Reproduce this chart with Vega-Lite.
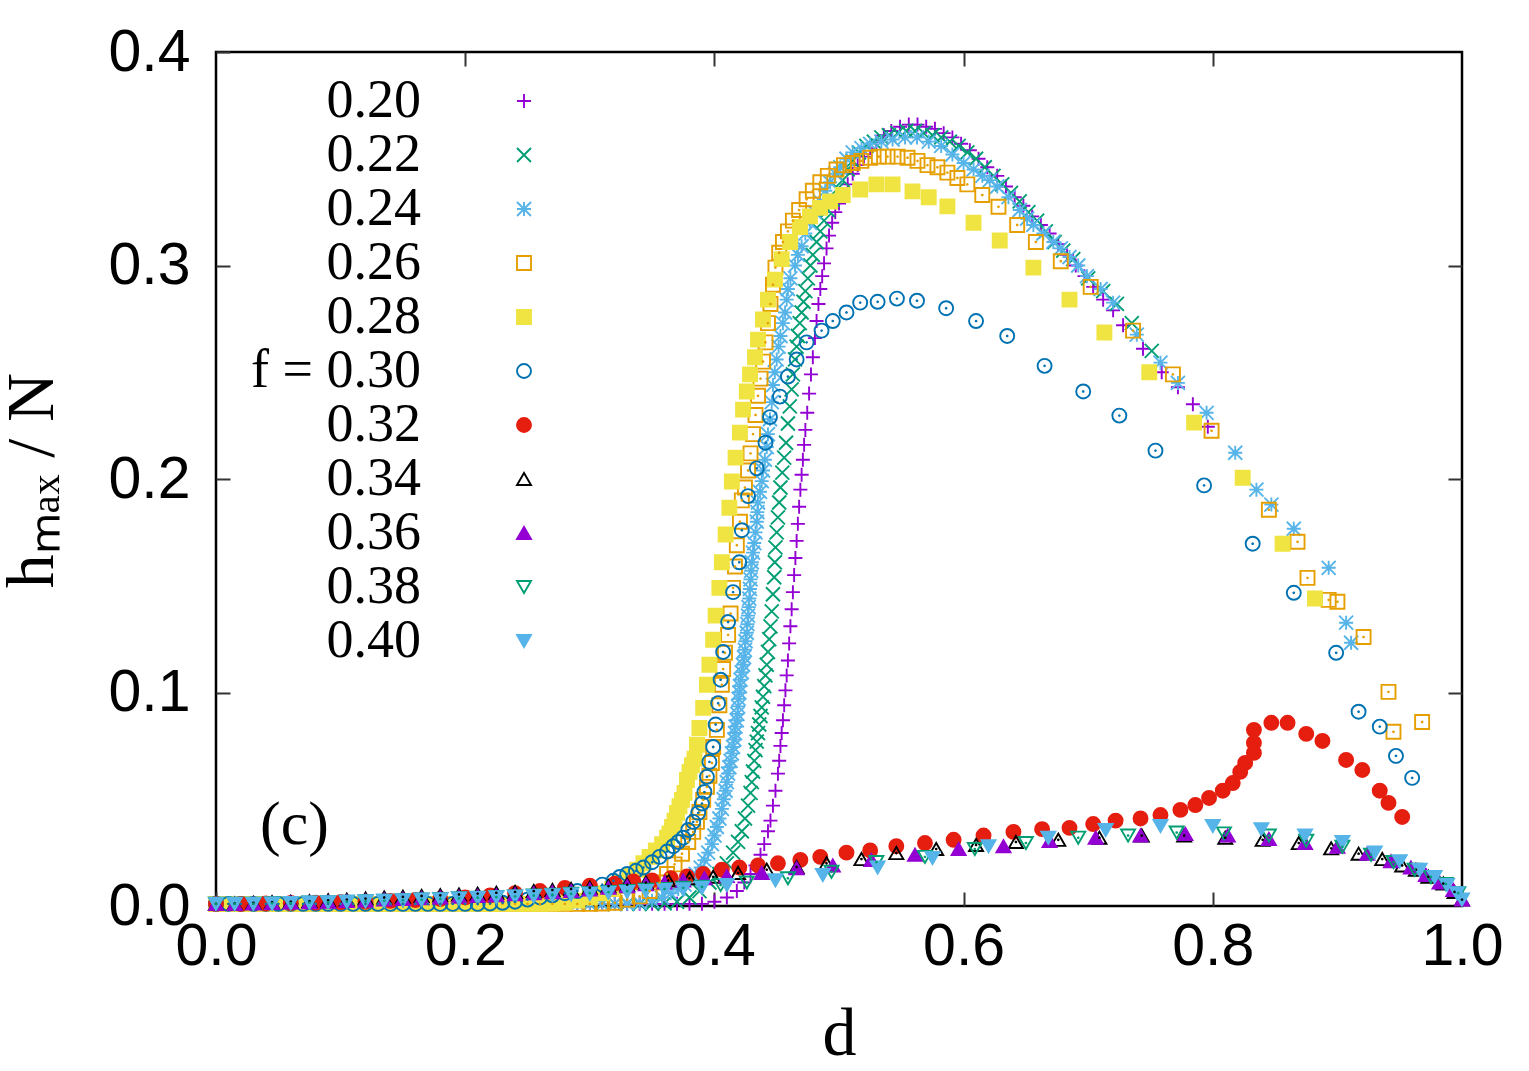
{
  "$schema": "https://vega.github.io/schema/vega-lite/v6.json",
  "width": 1246,
  "height": 854,
  "autosize": {"type": "none"},
  "padding": {"left": 216, "top": 52, "right": 67, "bottom": 165},
  "background": "white",
  "config": {
    "view": {"stroke": "#000", "strokeWidth": 2.5},
    "axis": {
      "grid": false, "domain": false, "tickColor": "#333", "tickWidth": 2, "tickSize": -14,
      "labelFont": "Liberation Sans", "labelFontSize": 59, "labelColor": "#000",
      "labelFlush": false, "labelOverlap": false,
      "titleFont": "Liberation Serif", "titleFontWeight": "normal", "titleColor": "#000", "titleFontSize": 68
    }
  },
  "data": {"values": [
    {"f":"0.20","d":0.00,"h":0.001},{"f":"0.20","d":0.01,"h":0.001},{"f":"0.20","d":0.02,"h":0.001},{"f":"0.20","d":0.03,"h":0.001},{"f":"0.20","d":0.04,"h":0.001},{"f":"0.20","d":0.05,"h":0.001},{"f":"0.20","d":0.06,"h":0.001},{"f":"0.20","d":0.07,"h":0.001},{"f":"0.20","d":0.08,"h":0.001},{"f":"0.20","d":0.09,"h":0.001},
    {"f":"0.20","d":0.10,"h":0.001},{"f":"0.20","d":0.11,"h":0.001},{"f":"0.20","d":0.12,"h":0.001},{"f":"0.20","d":0.13,"h":0.001},{"f":"0.20","d":0.14,"h":0.001},{"f":"0.20","d":0.15,"h":0.001},{"f":"0.20","d":0.16,"h":0.001},{"f":"0.20","d":0.17,"h":0.001},{"f":"0.20","d":0.18,"h":0.001},{"f":"0.20","d":0.19,"h":0.001},
    {"f":"0.20","d":0.20,"h":0.001},{"f":"0.20","d":0.21,"h":0.001},{"f":"0.20","d":0.22,"h":0.001},{"f":"0.20","d":0.23,"h":0.001},{"f":"0.20","d":0.24,"h":0.001},{"f":"0.20","d":0.25,"h":0.001},{"f":"0.20","d":0.26,"h":0.001},{"f":"0.20","d":0.27,"h":0.001},{"f":"0.20","d":0.28,"h":0.001},{"f":"0.20","d":0.29,"h":0.001},
    {"f":"0.20","d":0.30,"h":0.001},{"f":"0.20","d":0.31,"h":0.001},{"f":"0.20","d":0.32,"h":0.001},{"f":"0.20","d":0.33,"h":0.001},{"f":"0.20","d":0.34,"h":0.001},{"f":"0.20","d":0.35,"h":0.001},{"f":"0.20","d":0.36,"h":0.001},{"f":"0.20","d":0.37,"h":0.001},{"f":"0.20","d":0.38,"h":0.001},{"f":"0.20","d":0.39,"h":0.001},
    {"f":"0.20","d":0.400,"h":0.002},{"f":"0.20","d":0.410,"h":0.004},{"f":"0.20","d":0.418,"h":0.007},{"f":"0.20","d":0.424,"h":0.011},{"f":"0.20","d":0.429,"h":0.015},{"f":"0.20","d":0.433,"h":0.019},{"f":"0.20","d":0.437,"h":0.024},{"f":"0.20","d":0.440,"h":0.029},{"f":"0.20","d":0.443,"h":0.035},{"f":"0.20","d":0.445,"h":0.040},
    {"f":"0.20","d":0.447,"h":0.047},{"f":"0.20","d":0.449,"h":0.054},{"f":"0.20","d":0.451,"h":0.062},{"f":"0.20","d":0.452,"h":0.068},{"f":"0.20","d":0.453,"h":0.075},{"f":"0.20","d":0.454,"h":0.081},{"f":"0.20","d":0.455,"h":0.087},{"f":"0.20","d":0.456,"h":0.094},{"f":"0.20","d":0.457,"h":0.101},{"f":"0.20","d":0.458,"h":0.108},
    {"f":"0.20","d":0.459,"h":0.115},{"f":"0.20","d":0.460,"h":0.123},{"f":"0.20","d":0.461,"h":0.131},{"f":"0.20","d":0.462,"h":0.139},{"f":"0.20","d":0.463,"h":0.147},{"f":"0.20","d":0.464,"h":0.155},{"f":"0.20","d":0.465,"h":0.163},{"f":"0.20","d":0.466,"h":0.171},{"f":"0.20","d":0.467,"h":0.179},{"f":"0.20","d":0.468,"h":0.187},
    {"f":"0.20","d":0.469,"h":0.195},{"f":"0.20","d":0.470,"h":0.202},{"f":"0.20","d":0.471,"h":0.209},{"f":"0.20","d":0.472,"h":0.216},{"f":"0.20","d":0.473,"h":0.223},{"f":"0.20","d":0.4745,"h":0.231},{"f":"0.20","d":0.476,"h":0.240},{"f":"0.20","d":0.4775,"h":0.249},{"f":"0.20","d":0.479,"h":0.257},{"f":"0.20","d":0.4807,"h":0.266},
    {"f":"0.20","d":0.482,"h":0.274},{"f":"0.20","d":0.4835,"h":0.282},{"f":"0.20","d":0.485,"h":0.289},{"f":"0.20","d":0.4865,"h":0.295},{"f":"0.20","d":0.488,"h":0.301},{"f":"0.20","d":0.490,"h":0.308},{"f":"0.20","d":0.492,"h":0.314},{"f":"0.20","d":0.4945,"h":0.320},{"f":"0.20","d":0.497,"h":0.325},{"f":"0.20","d":0.500,"h":0.329},
    {"f":"0.20","d":0.503,"h":0.333},{"f":"0.20","d":0.507,"h":0.338},{"f":"0.20","d":0.511,"h":0.343},{"f":"0.20","d":0.515,"h":0.347},{"f":"0.20","d":0.520,"h":0.351},{"f":"0.20","d":0.525,"h":0.355},{"f":"0.20","d":0.530,"h":0.358},{"f":"0.20","d":0.536,"h":0.361},{"f":"0.20","d":0.542,"h":0.363},{"f":"0.20","d":0.549,"h":0.365},
    {"f":"0.20","d":0.556,"h":0.366},{"f":"0.20","d":0.563,"h":0.366},{"f":"0.20","d":0.570,"h":0.365},{"f":"0.20","d":0.577,"h":0.364},{"f":"0.20","d":0.584,"h":0.362},{"f":"0.20","d":0.591,"h":0.360},{"f":"0.20","d":0.598,"h":0.357},{"f":"0.20","d":0.605,"h":0.354},{"f":"0.20","d":0.612,"h":0.350},{"f":"0.20","d":0.619,"h":0.346},
    {"f":"0.20","d":0.627,"h":0.342},{"f":"0.20","d":0.634,"h":0.337},{"f":"0.20","d":0.641,"h":0.332},{"f":"0.20","d":0.648,"h":0.328},{"f":"0.20","d":0.655,"h":0.323},{"f":"0.20","d":0.662,"h":0.319},{"f":"0.20","d":0.669,"h":0.315},{"f":"0.20","d":0.676,"h":0.310},{"f":"0.20","d":0.683,"h":0.305},{"f":"0.20","d":0.690,"h":0.300},
    {"f":"0.20","d":0.697,"h":0.295},{"f":"0.20","d":0.704,"h":0.290},{"f":"0.20","d":0.712,"h":0.284},{"f":"0.20","d":0.720,"h":0.279},{"f":"0.20","d":0.728,"h":0.272},{"f":"0.20","d":0.744,"h":0.261},{"f":"0.20","d":0.759,"h":0.250},{"f":"0.20","d":0.772,"h":0.243},{"f":"0.20","d":0.784,"h":0.235},{"f":"0.20","d":0.796,"h":0.2245},

    {"f":"0.22","d":0.00,"h":0.001},{"f":"0.22","d":0.01,"h":0.001},{"f":"0.22","d":0.02,"h":0.001},{"f":"0.22","d":0.03,"h":0.001},{"f":"0.22","d":0.04,"h":0.001},{"f":"0.22","d":0.05,"h":0.001},{"f":"0.22","d":0.06,"h":0.001},{"f":"0.22","d":0.07,"h":0.001},{"f":"0.22","d":0.08,"h":0.001},{"f":"0.22","d":0.09,"h":0.001},
    {"f":"0.22","d":0.10,"h":0.001},{"f":"0.22","d":0.11,"h":0.001},{"f":"0.22","d":0.12,"h":0.001},{"f":"0.22","d":0.13,"h":0.001},{"f":"0.22","d":0.14,"h":0.001},{"f":"0.22","d":0.15,"h":0.001},{"f":"0.22","d":0.16,"h":0.001},{"f":"0.22","d":0.17,"h":0.001},{"f":"0.22","d":0.18,"h":0.001},{"f":"0.22","d":0.19,"h":0.001},
    {"f":"0.22","d":0.20,"h":0.001},{"f":"0.22","d":0.21,"h":0.001},{"f":"0.22","d":0.22,"h":0.001},{"f":"0.22","d":0.23,"h":0.001},{"f":"0.22","d":0.24,"h":0.001},{"f":"0.22","d":0.25,"h":0.001},{"f":"0.22","d":0.26,"h":0.001},{"f":"0.22","d":0.27,"h":0.001},{"f":"0.22","d":0.28,"h":0.001},{"f":"0.22","d":0.29,"h":0.001},
    {"f":"0.22","d":0.30,"h":0.001},{"f":"0.22","d":0.31,"h":0.001},{"f":"0.22","d":0.32,"h":0.001},{"f":"0.22","d":0.33,"h":0.001},{"f":"0.22","d":0.34,"h":0.001},{"f":"0.22","d":0.35,"h":0.001},{"f":"0.22","d":0.36,"h":0.0012},
    {"f":"0.22","d":0.370,"h":0.002},{"f":"0.22","d":0.380,"h":0.004},{"f":"0.22","d":0.388,"h":0.007},{"f":"0.22","d":0.396,"h":0.011},{"f":"0.22","d":0.404,"h":0.015},{"f":"0.22","d":0.410,"h":0.020},{"f":"0.22","d":0.415,"h":0.025},{"f":"0.22","d":0.419,"h":0.030},{"f":"0.22","d":0.422,"h":0.035},{"f":"0.22","d":0.4245,"h":0.041},
    {"f":"0.22","d":0.427,"h":0.047},{"f":"0.22","d":0.429,"h":0.053},{"f":"0.22","d":0.430,"h":0.058},{"f":"0.22","d":0.431,"h":0.063},{"f":"0.22","d":0.432,"h":0.068},{"f":"0.22","d":0.433,"h":0.073},{"f":"0.22","d":0.434,"h":0.077},{"f":"0.22","d":0.435,"h":0.081},{"f":"0.22","d":0.436,"h":0.085},{"f":"0.22","d":0.437,"h":0.089},
    {"f":"0.22","d":0.438,"h":0.093},{"f":"0.22","d":0.439,"h":0.098},{"f":"0.22","d":0.440,"h":0.103},{"f":"0.22","d":0.441,"h":0.108},{"f":"0.22","d":0.442,"h":0.113},{"f":"0.22","d":0.443,"h":0.119},{"f":"0.22","d":0.444,"h":0.125},{"f":"0.22","d":0.445,"h":0.131},{"f":"0.22","d":0.446,"h":0.138},{"f":"0.22","d":0.447,"h":0.146},
    {"f":"0.22","d":0.448,"h":0.154},{"f":"0.22","d":0.4485,"h":0.161},{"f":"0.22","d":0.449,"h":0.168},{"f":"0.22","d":0.450,"h":0.175},{"f":"0.22","d":0.451,"h":0.182},{"f":"0.22","d":0.452,"h":0.189},{"f":"0.22","d":0.453,"h":0.196},{"f":"0.22","d":0.4545,"h":0.203},{"f":"0.22","d":0.456,"h":0.210},{"f":"0.22","d":0.4575,"h":0.217},
    {"f":"0.22","d":0.459,"h":0.226},{"f":"0.22","d":0.4605,"h":0.234},{"f":"0.22","d":0.462,"h":0.242},{"f":"0.22","d":0.463,"h":0.249},{"f":"0.22","d":0.4647,"h":0.256},{"f":"0.22","d":0.466,"h":0.262},{"f":"0.22","d":0.467,"h":0.267},{"f":"0.22","d":0.4685,"h":0.273},{"f":"0.22","d":0.470,"h":0.278},{"f":"0.22","d":0.4715,"h":0.283},
    {"f":"0.22","d":0.473,"h":0.288},{"f":"0.22","d":0.475,"h":0.294},{"f":"0.22","d":0.477,"h":0.300},{"f":"0.22","d":0.479,"h":0.305},{"f":"0.22","d":0.482,"h":0.311},{"f":"0.22","d":0.485,"h":0.316},{"f":"0.22","d":0.488,"h":0.321},{"f":"0.22","d":0.491,"h":0.326},{"f":"0.22","d":0.495,"h":0.331},{"f":"0.22","d":0.499,"h":0.336},
    {"f":"0.22","d":0.503,"h":0.340},{"f":"0.22","d":0.507,"h":0.345},{"f":"0.22","d":0.511,"h":0.349},{"f":"0.22","d":0.516,"h":0.353},{"f":"0.22","d":0.522,"h":0.356},{"f":"0.22","d":0.528,"h":0.358},{"f":"0.22","d":0.534,"h":0.360},{"f":"0.22","d":0.540,"h":0.361},{"f":"0.22","d":0.547,"h":0.362},{"f":"0.22","d":0.554,"h":0.363},
    {"f":"0.22","d":0.561,"h":0.363},{"f":"0.22","d":0.568,"h":0.362},{"f":"0.22","d":0.575,"h":0.361},{"f":"0.22","d":0.582,"h":0.360},{"f":"0.22","d":0.589,"h":0.358},{"f":"0.22","d":0.596,"h":0.356},{"f":"0.22","d":0.603,"h":0.353},{"f":"0.22","d":0.610,"h":0.350},{"f":"0.22","d":0.617,"h":0.346},{"f":"0.22","d":0.624,"h":0.342},
    {"f":"0.22","d":0.631,"h":0.338},{"f":"0.22","d":0.638,"h":0.334},{"f":"0.22","d":0.645,"h":0.330},{"f":"0.22","d":0.652,"h":0.325},{"f":"0.22","d":0.659,"h":0.321},{"f":"0.22","d":0.666,"h":0.316},{"f":"0.22","d":0.673,"h":0.311},{"f":"0.22","d":0.680,"h":0.307},{"f":"0.22","d":0.688,"h":0.303},{"f":"0.22","d":0.700,"h":0.294},
    {"f":"0.22","d":0.712,"h":0.288},{"f":"0.22","d":0.723,"h":0.282},{"f":"0.22","d":0.735,"h":0.273},{"f":"0.22","d":0.751,"h":0.260},

    {"f":"0.24","d":0.00,"h":0.001},{"f":"0.24","d":0.01,"h":0.001},{"f":"0.24","d":0.02,"h":0.001},{"f":"0.24","d":0.03,"h":0.001},{"f":"0.24","d":0.04,"h":0.001},{"f":"0.24","d":0.05,"h":0.001},{"f":"0.24","d":0.06,"h":0.001},{"f":"0.24","d":0.07,"h":0.001},{"f":"0.24","d":0.08,"h":0.001},{"f":"0.24","d":0.09,"h":0.001},
    {"f":"0.24","d":0.10,"h":0.001},{"f":"0.24","d":0.11,"h":0.001},{"f":"0.24","d":0.12,"h":0.001},{"f":"0.24","d":0.13,"h":0.001},{"f":"0.24","d":0.14,"h":0.001},{"f":"0.24","d":0.15,"h":0.001},{"f":"0.24","d":0.16,"h":0.001},{"f":"0.24","d":0.17,"h":0.001},{"f":"0.24","d":0.18,"h":0.001},{"f":"0.24","d":0.19,"h":0.001},
    {"f":"0.24","d":0.20,"h":0.001},{"f":"0.24","d":0.21,"h":0.001},{"f":"0.24","d":0.22,"h":0.001},{"f":"0.24","d":0.23,"h":0.001},{"f":"0.24","d":0.24,"h":0.001},{"f":"0.24","d":0.25,"h":0.001},{"f":"0.24","d":0.26,"h":0.001},{"f":"0.24","d":0.27,"h":0.001},{"f":"0.24","d":0.28,"h":0.001},{"f":"0.24","d":0.29,"h":0.001},
    {"f":"0.24","d":0.30,"h":0.001},{"f":"0.24","d":0.31,"h":0.001},{"f":"0.24","d":0.32,"h":0.001},{"f":"0.24","d":0.33,"h":0.0012},
    {"f":"0.24","d":0.340,"h":0.0015},{"f":"0.24","d":0.350,"h":0.0025},{"f":"0.24","d":0.358,"h":0.004},{"f":"0.24","d":0.365,"h":0.006},{"f":"0.24","d":0.371,"h":0.008},{"f":"0.24","d":0.376,"h":0.010},{"f":"0.24","d":0.381,"h":0.0125},{"f":"0.24","d":0.385,"h":0.015},{"f":"0.24","d":0.389,"h":0.018},{"f":"0.24","d":0.392,"h":0.0215},
    {"f":"0.24","d":0.395,"h":0.025},{"f":"0.24","d":0.398,"h":0.029},{"f":"0.24","d":0.400,"h":0.033},{"f":"0.24","d":0.402,"h":0.037},{"f":"0.24","d":0.404,"h":0.041},{"f":"0.24","d":0.406,"h":0.0455},{"f":"0.24","d":0.4075,"h":0.050},{"f":"0.24","d":0.409,"h":0.054},{"f":"0.24","d":0.410,"h":0.058},{"f":"0.24","d":0.411,"h":0.062},
    {"f":"0.24","d":0.412,"h":0.065},{"f":"0.24","d":0.413,"h":0.068},{"f":"0.24","d":0.414,"h":0.0715},{"f":"0.24","d":0.415,"h":0.0745},{"f":"0.24","d":0.416,"h":0.078},{"f":"0.24","d":0.4165,"h":0.081},{"f":"0.24","d":0.417,"h":0.084},{"f":"0.24","d":0.418,"h":0.087},{"f":"0.24","d":0.4185,"h":0.090},{"f":"0.24","d":0.419,"h":0.0935},
    {"f":"0.24","d":0.4195,"h":0.097},{"f":"0.24","d":0.420,"h":0.100},{"f":"0.24","d":0.4205,"h":0.103},{"f":"0.24","d":0.421,"h":0.106},{"f":"0.24","d":0.422,"h":0.1095},{"f":"0.24","d":0.423,"h":0.113},{"f":"0.24","d":0.4238,"h":0.1165},{"f":"0.24","d":0.4245,"h":0.120},{"f":"0.24","d":0.425,"h":0.124},{"f":"0.24","d":0.426,"h":0.128},
    {"f":"0.24","d":0.4265,"h":0.132},{"f":"0.24","d":0.427,"h":0.136},{"f":"0.24","d":0.4275,"h":0.140},{"f":"0.24","d":0.428,"h":0.144},{"f":"0.24","d":0.4285,"h":0.1485},{"f":"0.24","d":0.429,"h":0.153},{"f":"0.24","d":0.4295,"h":0.157},{"f":"0.24","d":0.430,"h":0.161},{"f":"0.24","d":0.431,"h":0.1655},{"f":"0.24","d":0.432,"h":0.170},
    {"f":"0.24","d":0.433,"h":0.175},{"f":"0.24","d":0.434,"h":0.180},{"f":"0.24","d":0.4345,"h":0.1845},{"f":"0.24","d":0.435,"h":0.189},{"f":"0.24","d":0.4366,"h":0.194},{"f":"0.24","d":0.438,"h":0.199},{"f":"0.24","d":0.439,"h":0.204},{"f":"0.24","d":0.4405,"h":0.209},{"f":"0.24","d":0.442,"h":0.215},{"f":"0.24","d":0.443,"h":0.221},
    {"f":"0.24","d":0.4446,"h":0.228},{"f":"0.24","d":0.446,"h":0.236},{"f":"0.24","d":0.447,"h":0.244},{"f":"0.24","d":0.4485,"h":0.250},{"f":"0.24","d":0.450,"h":0.256},{"f":"0.24","d":0.4515,"h":0.262},{"f":"0.24","d":0.453,"h":0.267},{"f":"0.24","d":0.455,"h":0.273},{"f":"0.24","d":0.4567,"h":0.278},{"f":"0.24","d":0.458,"h":0.284},
    {"f":"0.24","d":0.459,"h":0.289},{"f":"0.24","d":0.461,"h":0.294},{"f":"0.24","d":0.4647,"h":0.300},{"f":"0.24","d":0.467,"h":0.305},{"f":"0.24","d":0.470,"h":0.309},{"f":"0.24","d":0.473,"h":0.315},{"f":"0.24","d":0.4767,"h":0.320},{"f":"0.24","d":0.4805,"h":0.325},{"f":"0.24","d":0.4848,"h":0.330},{"f":"0.24","d":0.489,"h":0.335},
    {"f":"0.24","d":0.4928,"h":0.339},{"f":"0.24","d":0.497,"h":0.343},{"f":"0.24","d":0.501,"h":0.346},{"f":"0.24","d":0.506,"h":0.350},{"f":"0.24","d":0.511,"h":0.353},{"f":"0.24","d":0.518,"h":0.355},{"f":"0.24","d":0.525,"h":0.357},{"f":"0.24","d":0.534,"h":0.358},{"f":"0.24","d":0.543,"h":0.359},{"f":"0.24","d":0.553,"h":0.360},
    {"f":"0.24","d":0.5626,"h":0.360},{"f":"0.24","d":0.572,"h":0.358},{"f":"0.24","d":0.582,"h":0.356},{"f":"0.24","d":0.591,"h":0.352},{"f":"0.24","d":0.600,"h":0.348},{"f":"0.24","d":0.608,"h":0.345},{"f":"0.24","d":0.615,"h":0.342},{"f":"0.24","d":0.621,"h":0.340},{"f":"0.24","d":0.627,"h":0.337},{"f":"0.24","d":0.636,"h":0.332},
    {"f":"0.24","d":0.645,"h":0.326},{"f":"0.24","d":0.651,"h":0.322},{"f":"0.24","d":0.656,"h":0.319},{"f":"0.24","d":0.664,"h":0.315},{"f":"0.24","d":0.672,"h":0.311},{"f":"0.24","d":0.678,"h":0.308},{"f":"0.24","d":0.685,"h":0.304},{"f":"0.24","d":0.692,"h":0.300},{"f":"0.24","d":0.699,"h":0.295},{"f":"0.24","d":0.710,"h":0.289},
    {"f":"0.24","d":0.720,"h":0.2826},{"f":"0.24","d":0.739,"h":0.2676},{"f":"0.24","d":0.758,"h":0.2545},{"f":"0.24","d":0.772,"h":0.245},{"f":"0.24","d":0.795,"h":0.231},{"f":"0.24","d":0.818,"h":0.2123},{"f":"0.24","d":0.835,"h":0.195},{"f":"0.24","d":0.847,"h":0.188},{"f":"0.24","d":0.865,"h":0.1767},{"f":"0.24","d":0.893,"h":0.1584},
    {"f":"0.24","d":0.907,"h":0.1327},{"f":"0.24","d":0.911,"h":0.1233},

    {"f":"0.26","d":0.00,"h":0.001},{"f":"0.26","d":0.01,"h":0.001},{"f":"0.26","d":0.02,"h":0.001},{"f":"0.26","d":0.03,"h":0.001},{"f":"0.26","d":0.04,"h":0.001},{"f":"0.26","d":0.05,"h":0.001},{"f":"0.26","d":0.06,"h":0.001},{"f":"0.26","d":0.07,"h":0.001},{"f":"0.26","d":0.08,"h":0.001},{"f":"0.26","d":0.09,"h":0.001},
    {"f":"0.26","d":0.10,"h":0.001},{"f":"0.26","d":0.11,"h":0.001},{"f":"0.26","d":0.12,"h":0.001},{"f":"0.26","d":0.13,"h":0.001},{"f":"0.26","d":0.14,"h":0.001},{"f":"0.26","d":0.15,"h":0.001},{"f":"0.26","d":0.16,"h":0.001},{"f":"0.26","d":0.17,"h":0.001},{"f":"0.26","d":0.18,"h":0.001},{"f":"0.26","d":0.19,"h":0.001},
    {"f":"0.26","d":0.20,"h":0.001},{"f":"0.26","d":0.21,"h":0.001},{"f":"0.26","d":0.22,"h":0.001},{"f":"0.26","d":0.23,"h":0.001},{"f":"0.26","d":0.24,"h":0.001},{"f":"0.26","d":0.25,"h":0.001},{"f":"0.26","d":0.26,"h":0.001},{"f":"0.26","d":0.27,"h":0.001},{"f":"0.26","d":0.28,"h":0.001},{"f":"0.26","d":0.29,"h":0.001},
    {"f":"0.26","d":0.30,"h":0.001},{"f":"0.26","d":0.31,"h":0.0012},
    {"f":"0.26","d":0.320,"h":0.0015},{"f":"0.26","d":0.330,"h":0.003},{"f":"0.26","d":0.340,"h":0.0045},{"f":"0.26","d":0.348,"h":0.007},{"f":"0.26","d":0.356,"h":0.011},{"f":"0.26","d":0.362,"h":0.015},{"f":"0.26","d":0.368,"h":0.0195},{"f":"0.26","d":0.374,"h":0.0245},{"f":"0.26","d":0.379,"h":0.030},{"f":"0.26","d":0.383,"h":0.0347},
    {"f":"0.26","d":0.386,"h":0.0394},{"f":"0.26","d":0.388,"h":0.044},{"f":"0.26","d":0.391,"h":0.0497},{"f":"0.26","d":0.394,"h":0.0558},{"f":"0.26","d":0.396,"h":0.061},{"f":"0.26","d":0.398,"h":0.067},{"f":"0.26","d":0.399,"h":0.0745},{"f":"0.26","d":0.402,"h":0.0825},{"f":"0.26","d":0.404,"h":0.094},{"f":"0.26","d":0.406,"h":0.1036},
    {"f":"0.26","d":0.407,"h":0.111},{"f":"0.26","d":0.4085,"h":0.1186},{"f":"0.26","d":0.411,"h":0.127},{"f":"0.26","d":0.413,"h":0.137},{"f":"0.26","d":0.415,"h":0.149},{"f":"0.26","d":0.4165,"h":0.159},{"f":"0.26","d":0.418,"h":0.169},{"f":"0.26","d":0.4205,"h":0.180},{"f":"0.26","d":0.422,"h":0.190},{"f":"0.26","d":0.4245,"h":0.196},
    {"f":"0.26","d":0.427,"h":0.204},{"f":"0.26","d":0.429,"h":0.212},{"f":"0.26","d":0.431,"h":0.221},{"f":"0.26","d":0.433,"h":0.230},{"f":"0.26","d":0.435,"h":0.239},{"f":"0.26","d":0.437,"h":0.247},{"f":"0.26","d":0.439,"h":0.255},{"f":"0.26","d":0.441,"h":0.264},{"f":"0.26","d":0.443,"h":0.273},{"f":"0.26","d":0.445,"h":0.282},
    {"f":"0.26","d":0.447,"h":0.291},{"f":"0.26","d":0.449,"h":0.299},{"f":"0.26","d":0.452,"h":0.306},{"f":"0.26","d":0.455,"h":0.311},{"f":"0.26","d":0.459,"h":0.316},{"f":"0.26","d":0.463,"h":0.321},{"f":"0.26","d":0.468,"h":0.326},{"f":"0.26","d":0.474,"h":0.331},{"f":"0.26","d":0.479,"h":0.335},{"f":"0.26","d":0.485,"h":0.339},
    {"f":"0.26","d":0.491,"h":0.342},{"f":"0.26","d":0.498,"h":0.345},{"f":"0.26","d":0.504,"h":0.347},{"f":"0.26","d":0.511,"h":0.348},{"f":"0.26","d":0.518,"h":0.349},{"f":"0.26","d":0.525,"h":0.3505},{"f":"0.26","d":0.532,"h":0.351},{"f":"0.26","d":0.539,"h":0.351},{"f":"0.26","d":0.547,"h":0.351},{"f":"0.26","d":0.555,"h":0.3505},
    {"f":"0.26","d":0.563,"h":0.349},{"f":"0.26","d":0.571,"h":0.347},{"f":"0.26","d":0.579,"h":0.346},{"f":"0.26","d":0.587,"h":0.3435},{"f":"0.26","d":0.595,"h":0.341},{"f":"0.26","d":0.603,"h":0.338},{"f":"0.26","d":0.615,"h":0.333},{"f":"0.26","d":0.628,"h":0.3275},{"f":"0.26","d":0.643,"h":0.319},{"f":"0.26","d":0.658,"h":0.311},
    {"f":"0.26","d":0.678,"h":0.302},{"f":"0.26","d":0.702,"h":0.290},{"f":"0.26","d":0.736,"h":0.2695},{"f":"0.26","d":0.768,"h":0.249},{"f":"0.26","d":0.799,"h":0.2226},{"f":"0.26","d":0.845,"h":0.1856},{"f":"0.26","d":0.868,"h":0.1706},{"f":"0.26","d":0.876,"h":0.1537},{"f":"0.26","d":0.893,"h":0.1434},{"f":"0.26","d":0.900,"h":0.1425},
    {"f":"0.26","d":0.921,"h":0.126},{"f":"0.26","d":0.941,"h":0.1003},{"f":"0.26","d":0.945,"h":0.0816},{"f":"0.26","d":0.968,"h":0.0862},

    {"f":"0.28","d":0.00,"h":0.001},{"f":"0.28","d":0.01,"h":0.001},{"f":"0.28","d":0.02,"h":0.001},{"f":"0.28","d":0.03,"h":0.001},{"f":"0.28","d":0.04,"h":0.001},{"f":"0.28","d":0.05,"h":0.001},{"f":"0.28","d":0.06,"h":0.001},{"f":"0.28","d":0.07,"h":0.001},{"f":"0.28","d":0.08,"h":0.001},{"f":"0.28","d":0.09,"h":0.001},
    {"f":"0.28","d":0.10,"h":0.001},{"f":"0.28","d":0.11,"h":0.001},{"f":"0.28","d":0.12,"h":0.001},{"f":"0.28","d":0.13,"h":0.001},{"f":"0.28","d":0.14,"h":0.001},{"f":"0.28","d":0.15,"h":0.001},{"f":"0.28","d":0.16,"h":0.001},{"f":"0.28","d":0.17,"h":0.001},{"f":"0.28","d":0.18,"h":0.001},{"f":"0.28","d":0.19,"h":0.001},
    {"f":"0.28","d":0.20,"h":0.001},{"f":"0.28","d":0.21,"h":0.001},{"f":"0.28","d":0.22,"h":0.001},{"f":"0.28","d":0.23,"h":0.001},{"f":"0.28","d":0.24,"h":0.001},{"f":"0.28","d":0.25,"h":0.001},{"f":"0.28","d":0.26,"h":0.001},{"f":"0.28","d":0.27,"h":0.0012},
    {"f":"0.28","d":0.280,"h":0.0015},{"f":"0.28","d":0.290,"h":0.0025},{"f":"0.28","d":0.300,"h":0.004},{"f":"0.28","d":0.310,"h":0.006},{"f":"0.28","d":0.318,"h":0.008},{"f":"0.28","d":0.325,"h":0.011},{"f":"0.28","d":0.332,"h":0.014},{"f":"0.28","d":0.338,"h":0.017},{"f":"0.28","d":0.343,"h":0.020},{"f":"0.28","d":0.348,"h":0.023},
    {"f":"0.28","d":0.353,"h":0.026},{"f":"0.28","d":0.358,"h":0.029},{"f":"0.28","d":0.362,"h":0.032},{"f":"0.28","d":0.364,"h":0.034},{"f":"0.28","d":0.366,"h":0.037},{"f":"0.28","d":0.368,"h":0.040},{"f":"0.28","d":0.370,"h":0.0436},{"f":"0.28","d":0.372,"h":0.0467},{"f":"0.28","d":0.374,"h":0.0497},{"f":"0.28","d":0.376,"h":0.053},
    {"f":"0.28","d":0.378,"h":0.059},{"f":"0.28","d":0.380,"h":0.0628},{"f":"0.28","d":0.382,"h":0.066},{"f":"0.28","d":0.384,"h":0.069},{"f":"0.28","d":0.386,"h":0.0755},{"f":"0.28","d":0.388,"h":0.0834},{"f":"0.28","d":0.391,"h":0.0928},{"f":"0.28","d":0.394,"h":0.1036},{"f":"0.28","d":0.396,"h":0.113},{"f":"0.28","d":0.399,"h":0.1247},
    {"f":"0.28","d":0.401,"h":0.136},{"f":"0.28","d":0.404,"h":0.149},{"f":"0.28","d":0.406,"h":0.161},{"f":"0.28","d":0.409,"h":0.174},{"f":"0.28","d":0.412,"h":0.1865},{"f":"0.28","d":0.414,"h":0.1988},{"f":"0.28","d":0.417,"h":0.210},{"f":"0.28","d":0.4205,"h":0.2217},{"f":"0.28","d":0.423,"h":0.2325},{"f":"0.28","d":0.426,"h":0.241},
    {"f":"0.28","d":0.4286,"h":0.249},{"f":"0.28","d":0.4326,"h":0.257},{"f":"0.28","d":0.435,"h":0.2653},{"f":"0.28","d":0.439,"h":0.2747},{"f":"0.28","d":0.443,"h":0.284},{"f":"0.28","d":0.4486,"h":0.2934},{"f":"0.28","d":0.454,"h":0.303},{"f":"0.28","d":0.4607,"h":0.311},{"f":"0.28","d":0.4687,"h":0.318},{"f":"0.28","d":0.4767,"h":0.323},
    {"f":"0.28","d":0.4848,"h":0.327},{"f":"0.28","d":0.4928,"h":0.330},{"f":"0.28","d":0.503,"h":0.333},{"f":"0.28","d":0.517,"h":0.3356},{"f":"0.28","d":0.530,"h":0.338},{"f":"0.28","d":0.543,"h":0.338},{"f":"0.28","d":0.559,"h":0.3347},{"f":"0.28","d":0.572,"h":0.332},{"f":"0.28","d":0.587,"h":0.3277},{"f":"0.28","d":0.608,"h":0.320},
    {"f":"0.28","d":0.629,"h":0.3117},{"f":"0.28","d":0.656,"h":0.299},{"f":"0.28","d":0.685,"h":0.284},{"f":"0.28","d":0.713,"h":0.2686},{"f":"0.28","d":0.749,"h":0.250},{"f":"0.28","d":0.785,"h":0.2264},{"f":"0.28","d":0.824,"h":0.2006},{"f":"0.28","d":0.856,"h":0.1697},{"f":"0.28","d":0.882,"h":0.144},

    {"f":"0.30","d":0.00,"h":0.001},{"f":"0.30","d":0.01,"h":0.001},{"f":"0.30","d":0.02,"h":0.001},{"f":"0.30","d":0.03,"h":0.001},{"f":"0.30","d":0.04,"h":0.001},{"f":"0.30","d":0.05,"h":0.001},{"f":"0.30","d":0.06,"h":0.001},{"f":"0.30","d":0.07,"h":0.001},{"f":"0.30","d":0.08,"h":0.001},{"f":"0.30","d":0.09,"h":0.001},
    {"f":"0.30","d":0.10,"h":0.001},{"f":"0.30","d":0.11,"h":0.001},{"f":"0.30","d":0.12,"h":0.001},{"f":"0.30","d":0.13,"h":0.001},{"f":"0.30","d":0.14,"h":0.001},{"f":"0.30","d":0.15,"h":0.001},{"f":"0.30","d":0.16,"h":0.001},{"f":"0.30","d":0.17,"h":0.001},{"f":"0.30","d":0.18,"h":0.001},{"f":"0.30","d":0.19,"h":0.001},
    {"f":"0.30","d":0.20,"h":0.001},{"f":"0.30","d":0.21,"h":0.001},{"f":"0.30","d":0.22,"h":0.0012},
    {"f":"0.30","d":0.23,"h":0.0015},{"f":"0.30","d":0.24,"h":0.002},{"f":"0.30","d":0.25,"h":0.003},{"f":"0.30","d":0.26,"h":0.004},{"f":"0.30","d":0.27,"h":0.005},{"f":"0.30","d":0.28,"h":0.006},{"f":"0.30","d":0.29,"h":0.007},{"f":"0.30","d":0.30,"h":0.0085},{"f":"0.30","d":0.31,"h":0.010},{"f":"0.30","d":0.319,"h":0.0118},
    {"f":"0.30","d":0.324,"h":0.0136},{"f":"0.30","d":0.330,"h":0.015},{"f":"0.30","d":0.337,"h":0.0165},{"f":"0.30","d":0.343,"h":0.018},{"f":"0.30","d":0.350,"h":0.0205},{"f":"0.30","d":0.356,"h":0.023},{"f":"0.30","d":0.362,"h":0.0255},{"f":"0.30","d":0.367,"h":0.028},{"f":"0.30","d":0.371,"h":0.030},{"f":"0.30","d":0.375,"h":0.032},
    {"f":"0.30","d":0.379,"h":0.0356},{"f":"0.30","d":0.383,"h":0.0394},{"f":"0.30","d":0.387,"h":0.0436},{"f":"0.30","d":0.390,"h":0.048},{"f":"0.30","d":0.392,"h":0.0534},{"f":"0.30","d":0.394,"h":0.0605},{"f":"0.30","d":0.396,"h":0.0675},{"f":"0.30","d":0.399,"h":0.0745},{"f":"0.30","d":0.401,"h":0.085},{"f":"0.30","d":0.403,"h":0.095},
    {"f":"0.30","d":0.405,"h":0.106},{"f":"0.30","d":0.407,"h":0.119},{"f":"0.30","d":0.411,"h":0.133},{"f":"0.30","d":0.415,"h":0.147},{"f":"0.30","d":0.420,"h":0.161},{"f":"0.30","d":0.422,"h":0.176},{"f":"0.30","d":0.427,"h":0.192},{"f":"0.30","d":0.434,"h":0.205},{"f":"0.30","d":0.441,"h":0.217},{"f":"0.30","d":0.4446,"h":0.229},
    {"f":"0.30","d":0.4526,"h":0.2386},{"f":"0.30","d":0.459,"h":0.248},{"f":"0.30","d":0.466,"h":0.256},{"f":"0.30","d":0.474,"h":0.264},{"f":"0.30","d":0.486,"h":0.2695},{"f":"0.30","d":0.495,"h":0.274},{"f":"0.30","d":0.506,"h":0.278},{"f":"0.30","d":0.517,"h":0.2826},{"f":"0.30","d":0.531,"h":0.283},{"f":"0.30","d":0.5465,"h":0.2845},
    {"f":"0.30","d":0.5626,"h":0.2835},{"f":"0.30","d":0.586,"h":0.280},{"f":"0.30","d":0.610,"h":0.274},{"f":"0.30","d":0.635,"h":0.267},{"f":"0.30","d":0.665,"h":0.253},{"f":"0.30","d":0.696,"h":0.241},{"f":"0.30","d":0.725,"h":0.2297},{"f":"0.30","d":0.754,"h":0.2133},{"f":"0.30","d":0.793,"h":0.197},{"f":"0.30","d":0.832,"h":0.1697},
    {"f":"0.30","d":0.865,"h":0.1467},{"f":"0.30","d":0.899,"h":0.1186},{"f":"0.30","d":0.917,"h":0.091},{"f":"0.30","d":0.934,"h":0.084},{"f":"0.30","d":0.947,"h":0.0703},{"f":"0.30","d":0.960,"h":0.060},

    {"f":"0.32","d":0.00,"h":0.001},{"f":"0.32","d":0.02,"h":0.001},{"f":"0.32","d":0.04,"h":0.0012},{"f":"0.32","d":0.06,"h":0.0014},{"f":"0.32","d":0.08,"h":0.0016},{"f":"0.32","d":0.10,"h":0.0018},{"f":"0.32","d":0.12,"h":0.002},{"f":"0.32","d":0.14,"h":0.0024},{"f":"0.32","d":0.16,"h":0.0028},{"f":"0.32","d":0.18,"h":0.0033},
    {"f":"0.32","d":0.20,"h":0.004},{"f":"0.32","d":0.22,"h":0.005},{"f":"0.32","d":0.24,"h":0.006},{"f":"0.32","d":0.26,"h":0.007},{"f":"0.32","d":0.28,"h":0.0085},{"f":"0.32","d":0.30,"h":0.0095},{"f":"0.32","d":0.32,"h":0.0105},{"f":"0.32","d":0.335,"h":0.0115},{"f":"0.32","d":0.35,"h":0.012},{"f":"0.32","d":0.365,"h":0.013},
    {"f":"0.32","d":0.378,"h":0.0138},{"f":"0.32","d":0.391,"h":0.015},{"f":"0.32","d":0.406,"h":0.017},{"f":"0.32","d":0.420,"h":0.018},{"f":"0.32","d":0.435,"h":0.019},{"f":"0.32","d":0.451,"h":0.020},{"f":"0.32","d":0.469,"h":0.0216},{"f":"0.32","d":0.485,"h":0.023},{"f":"0.32","d":0.506,"h":0.025},{"f":"0.32","d":0.525,"h":0.026},
    {"f":"0.32","d":0.546,"h":0.028},{"f":"0.32","d":0.569,"h":0.0295},{"f":"0.32","d":0.592,"h":0.031},{"f":"0.32","d":0.616,"h":0.033},{"f":"0.32","d":0.640,"h":0.0347},{"f":"0.32","d":0.663,"h":0.036},{"f":"0.32","d":0.685,"h":0.0366},{"f":"0.32","d":0.704,"h":0.0384},{"f":"0.32","d":0.722,"h":0.040},{"f":"0.32","d":0.742,"h":0.041},
    {"f":"0.32","d":0.758,"h":0.0426},{"f":"0.32","d":0.774,"h":0.045},{"f":"0.32","d":0.786,"h":0.0473},{"f":"0.32","d":0.797,"h":0.0506},{"f":"0.32","d":0.808,"h":0.054},{"f":"0.32","d":0.816,"h":0.0576},{"f":"0.32","d":0.822,"h":0.0628},{"f":"0.32","d":0.826,"h":0.067},{"f":"0.32","d":0.833,"h":0.0717},{"f":"0.32","d":0.833,"h":0.0764},
    {"f":"0.32","d":0.833,"h":0.0825},{"f":"0.32","d":0.847,"h":0.0858},{"f":"0.32","d":0.860,"h":0.0858},{"f":"0.32","d":0.875,"h":0.0806},{"f":"0.32","d":0.888,"h":0.0773},{"f":"0.32","d":0.907,"h":0.0684},{"f":"0.32","d":0.920,"h":0.0637},{"f":"0.32","d":0.934,"h":0.054},{"f":"0.32","d":0.941,"h":0.0483},{"f":"0.32","d":0.952,"h":0.0417},

    {"f":"0.34","d":0.000,"h":0.001},{"f":"0.34","d":0.015,"h":0.0012},{"f":"0.34","d":0.030,"h":0.0015},{"f":"0.34","d":0.045,"h":0.0018},{"f":"0.34","d":0.060,"h":0.002},{"f":"0.34","d":0.075,"h":0.0023},{"f":"0.34","d":0.090,"h":0.0027},{"f":"0.34","d":0.105,"h":0.003},{"f":"0.34","d":0.120,"h":0.0035},{"f":"0.34","d":0.135,"h":0.004},
    {"f":"0.34","d":0.150,"h":0.0043},{"f":"0.34","d":0.165,"h":0.0047},{"f":"0.34","d":0.180,"h":0.005},{"f":"0.34","d":0.195,"h":0.0054},{"f":"0.34","d":0.210,"h":0.0058},{"f":"0.34","d":0.225,"h":0.0062},{"f":"0.34","d":0.240,"h":0.0066},{"f":"0.34","d":0.255,"h":0.007},{"f":"0.34","d":0.270,"h":0.0075},{"f":"0.34","d":0.285,"h":0.008},
    {"f":"0.34","d":0.300,"h":0.0086},{"f":"0.34","d":0.315,"h":0.0093},{"f":"0.34","d":0.330,"h":0.010},{"f":"0.34","d":0.345,"h":0.011},{"f":"0.34","d":0.363,"h":0.012},{"f":"0.34","d":0.380,"h":0.013},{"f":"0.34","d":0.399,"h":0.0137},{"f":"0.34","d":0.419,"h":0.0155},{"f":"0.34","d":0.442,"h":0.017},{"f":"0.34","d":0.466,"h":0.0183},
    {"f":"0.34","d":0.490,"h":0.020},{"f":"0.34","d":0.518,"h":0.022},{"f":"0.34","d":0.546,"h":0.0248},{"f":"0.34","d":0.578,"h":0.0267},{"f":"0.34","d":0.610,"h":0.0286},{"f":"0.34","d":0.642,"h":0.030},{"f":"0.34","d":0.676,"h":0.031},{"f":"0.34","d":0.709,"h":0.032},{"f":"0.34","d":0.743,"h":0.033},{"f":"0.34","d":0.777,"h":0.033},
    {"f":"0.34","d":0.810,"h":0.032},{"f":"0.34","d":0.840,"h":0.031},{"f":"0.34","d":0.869,"h":0.0295},{"f":"0.34","d":0.895,"h":0.027},{"f":"0.34","d":0.917,"h":0.0245},{"f":"0.34","d":0.936,"h":0.022},{"f":"0.34","d":0.952,"h":0.019},{"f":"0.34","d":0.963,"h":0.017},{"f":"0.34","d":0.973,"h":0.0137},{"f":"0.34","d":0.985,"h":0.0105},
    {"f":"0.34","d":0.994,"h":0.0066},{"f":"0.34","d":1.000,"h":0.003},

    {"f":"0.36","d":0.000,"h":0.001},{"f":"0.36","d":0.015,"h":0.001},{"f":"0.36","d":0.030,"h":0.0012},{"f":"0.36","d":0.045,"h":0.0014},{"f":"0.36","d":0.060,"h":0.0016},{"f":"0.36","d":0.075,"h":0.0018},{"f":"0.36","d":0.090,"h":0.002},{"f":"0.36","d":0.105,"h":0.0023},{"f":"0.36","d":0.120,"h":0.0026},{"f":"0.36","d":0.135,"h":0.003},
    {"f":"0.36","d":0.150,"h":0.0033},{"f":"0.36","d":0.165,"h":0.0036},{"f":"0.36","d":0.180,"h":0.004},{"f":"0.36","d":0.195,"h":0.0043},{"f":"0.36","d":0.210,"h":0.0047},{"f":"0.36","d":0.225,"h":0.005},{"f":"0.36","d":0.240,"h":0.0055},{"f":"0.36","d":0.255,"h":0.006},{"f":"0.36","d":0.270,"h":0.0065},{"f":"0.36","d":0.285,"h":0.007},
    {"f":"0.36","d":0.300,"h":0.0077},{"f":"0.36","d":0.315,"h":0.0085},{"f":"0.36","d":0.330,"h":0.0093},{"f":"0.36","d":0.345,"h":0.0102},{"f":"0.36","d":0.360,"h":0.011},{"f":"0.36","d":0.375,"h":0.012},{"f":"0.36","d":0.392,"h":0.013},{"f":"0.36","d":0.410,"h":0.014},{"f":"0.36","d":0.438,"h":0.0155},{"f":"0.36","d":0.466,"h":0.0177},
    {"f":"0.36","d":0.495,"h":0.019},{"f":"0.36","d":0.526,"h":0.0216},{"f":"0.36","d":0.561,"h":0.024},{"f":"0.36","d":0.596,"h":0.0267},{"f":"0.36","d":0.632,"h":0.028},{"f":"0.36","d":0.669,"h":0.0305},{"f":"0.36","d":0.706,"h":0.032},{"f":"0.36","d":0.742,"h":0.033},{"f":"0.36","d":0.778,"h":0.0337},{"f":"0.36","d":0.812,"h":0.033},
    {"f":"0.36","d":0.845,"h":0.0314},{"f":"0.36","d":0.874,"h":0.0295},{"f":"0.36","d":0.900,"h":0.0277},{"f":"0.36","d":0.924,"h":0.0245},{"f":"0.36","d":0.943,"h":0.021},{"f":"0.36","d":0.959,"h":0.018},{"f":"0.36","d":0.971,"h":0.0145},{"f":"0.36","d":0.982,"h":0.011},{"f":"0.36","d":0.993,"h":0.0075},{"f":"0.36","d":1.000,"h":0.003},

    {"f":"0.38","d":0.000,"h":0.001},{"f":"0.38","d":0.015,"h":0.001},{"f":"0.38","d":0.030,"h":0.0011},{"f":"0.38","d":0.045,"h":0.0013},{"f":"0.38","d":0.060,"h":0.0014},{"f":"0.38","d":0.075,"h":0.0016},{"f":"0.38","d":0.090,"h":0.0018},{"f":"0.38","d":0.105,"h":0.002},{"f":"0.38","d":0.120,"h":0.0022},{"f":"0.38","d":0.135,"h":0.0024},
    {"f":"0.38","d":0.150,"h":0.0027},{"f":"0.38","d":0.165,"h":0.003},{"f":"0.38","d":0.180,"h":0.0033},{"f":"0.38","d":0.195,"h":0.0036},{"f":"0.38","d":0.210,"h":0.0039},{"f":"0.38","d":0.225,"h":0.0042},{"f":"0.38","d":0.240,"h":0.0045},{"f":"0.38","d":0.255,"h":0.0049},{"f":"0.38","d":0.270,"h":0.0053},{"f":"0.38","d":0.285,"h":0.0057},
    {"f":"0.38","d":0.300,"h":0.006},{"f":"0.38","d":0.315,"h":0.0065},{"f":"0.38","d":0.330,"h":0.007},{"f":"0.38","d":0.345,"h":0.0076},{"f":"0.38","d":0.360,"h":0.008},{"f":"0.38","d":0.375,"h":0.0085},{"f":"0.38","d":0.390,"h":0.009},{"f":"0.38","d":0.405,"h":0.0098},{"f":"0.38","d":0.426,"h":0.011},{"f":"0.38","d":0.459,"h":0.013},
    {"f":"0.38","d":0.494,"h":0.016},{"f":"0.38","d":0.530,"h":0.0206},{"f":"0.38","d":0.569,"h":0.023},{"f":"0.38","d":0.609,"h":0.0267},{"f":"0.38","d":0.650,"h":0.0295},{"f":"0.38","d":0.692,"h":0.032},{"f":"0.38","d":0.732,"h":0.033},{"f":"0.38","d":0.771,"h":0.0344},{"f":"0.38","d":0.809,"h":0.034},{"f":"0.38","d":0.845,"h":0.033},
    {"f":"0.38","d":0.875,"h":0.0305},{"f":"0.38","d":0.904,"h":0.0277},{"f":"0.38","d":0.927,"h":0.024},{"f":"0.38","d":0.945,"h":0.0206},{"f":"0.38","d":0.962,"h":0.017},{"f":"0.38","d":0.975,"h":0.0136},{"f":"0.38","d":0.987,"h":0.0103},{"f":"0.38","d":0.997,"h":0.006},

    {"f":"0.40","d":0.000,"h":0.001},{"f":"0.40","d":0.015,"h":0.001},{"f":"0.40","d":0.030,"h":0.0011},{"f":"0.40","d":0.045,"h":0.0012},{"f":"0.40","d":0.060,"h":0.0014},{"f":"0.40","d":0.075,"h":0.0016},{"f":"0.40","d":0.090,"h":0.0018},{"f":"0.40","d":0.105,"h":0.002},{"f":"0.40","d":0.120,"h":0.0022},{"f":"0.40","d":0.135,"h":0.0024},
    {"f":"0.40","d":0.150,"h":0.0027},{"f":"0.40","d":0.165,"h":0.003},{"f":"0.40","d":0.180,"h":0.0032},{"f":"0.40","d":0.195,"h":0.0035},{"f":"0.40","d":0.210,"h":0.0038},{"f":"0.40","d":0.225,"h":0.0041},{"f":"0.40","d":0.240,"h":0.0044},{"f":"0.40","d":0.255,"h":0.0047},{"f":"0.40","d":0.270,"h":0.005},{"f":"0.40","d":0.285,"h":0.0054},
    {"f":"0.40","d":0.300,"h":0.0057},{"f":"0.40","d":0.315,"h":0.0062},{"f":"0.40","d":0.330,"h":0.0066},{"f":"0.40","d":0.345,"h":0.007},{"f":"0.40","d":0.360,"h":0.0075},{"f":"0.40","d":0.375,"h":0.0078},{"f":"0.40","d":0.390,"h":0.0085},{"f":"0.40","d":0.410,"h":0.0098},{"f":"0.40","d":0.449,"h":0.012},{"f":"0.40","d":0.487,"h":0.0145},
    {"f":"0.40","d":0.531,"h":0.018},{"f":"0.40","d":0.575,"h":0.0225},{"f":"0.40","d":0.620,"h":0.028},{"f":"0.40","d":0.668,"h":0.032},{"f":"0.40","d":0.714,"h":0.0356},{"f":"0.40","d":0.758,"h":0.0375},{"f":"0.40","d":0.800,"h":0.0375},{"f":"0.40","d":0.839,"h":0.036},{"f":"0.40","d":0.874,"h":0.033},{"f":"0.40","d":0.904,"h":0.030},
    {"f":"0.40","d":0.930,"h":0.025},{"f":"0.40","d":0.950,"h":0.021},{"f":"0.40","d":0.966,"h":0.017},{"f":"0.40","d":0.978,"h":0.0136},{"f":"0.40","d":0.988,"h":0.0098},{"f":"0.40","d":0.996,"h":0.006},{"f":"0.40","d":1.000,"h":0.003}
  ]},
  "layer": [
    {
      "mark": {"type": "point", "size": 196, "strokeWidth": 1.9, "opacity": 1},
      "encoding": {
        "x": {
          "field": "d", "type": "quantitative",
          "scale": {"domain": [0, 1], "nice": false, "zero": false},
          "axis": {"values": [0, 0.2, 0.4, 0.6, 0.8, 1], "format": ".1f", "labelPadding": 25, "title": "d", "titlePadding": 24}
        },
        "y": {
          "field": "h", "type": "quantitative",
          "scale": {"domain": [0, 0.4], "nice": false},
          "axis": {"values": [0, 0.1, 0.2, 0.3, 0.4], "format": ".1f", "labelPadding": 40,
                   "title": "h\u2098\u2090\u2093 / N", "titleX": -164, "titleY": 428, "titleAngle": -90,
                   "titleBaseline": "alphabetic", "titleAlign": "center"}
        },
        "shape": {
          "field": "f", "type": "nominal",
          "scale": {
            "domain": ["0.20","0.22","0.24","0.26","0.28","0.30","0.32","0.34","0.36","0.38","0.40"],
            "range": ["M-1,0H1M0,-1V1", "M-1,-1L1,1M-1,1L1,-1", "M-1,0H1M0,-1V1M-1,-1L1,1M-1,1L1,-1",
                      "square", "square", "circle", "circle", "triangle-up", "triangle-up", "triangle-down", "triangle-down"]
          },
          "legend": {
            "title": null, "orient": "none", "legendX": 281, "legendY": 22, "padding": 0,
            "labelFont": "Liberation Serif", "labelFontSize": 54, "labelColor": "#000",
            "labelAlign": "right", "labelOffset": -130, "labelLimit": 500,
            "symbolSize": 196, "symbolStrokeWidth": 1.9, "rowPadding": 0,
            "labelExpr": "datum.label == '0.30' ? 'f = 0.30' : datum.label"
          }
        },
        "fill": {
          "field": "f", "type": "nominal",
          "scale": {
            "domain": ["0.20","0.22","0.24","0.26","0.28","0.30","0.32","0.34","0.36","0.38","0.40"],
            "range": ["transparent","transparent","transparent","transparent","#f0e442","transparent","#e51e10","transparent","#9400d3","transparent","#56b4e9"]
          }
        },
        "stroke": {
          "field": "f", "type": "nominal",
          "scale": {
            "domain": ["0.20","0.22","0.24","0.26","0.28","0.30","0.32","0.34","0.36","0.38","0.40"],
            "range": ["#9400d3","#009e73","#56b4e9","#e69f00","#f0e442","#0072b2","#e51e10","#000000","#9400d3","#009e73","#56b4e9"]
          }
        }
      }
    },
    {
      "transform": [{"filter": {"field": "f", "oneOf": ["0.26", "0.30", "0.34", "0.38"]}}],
      "mark": {"type": "point", "shape": "circle", "size": 2, "strokeWidth": 1.3, "opacity": 1},
      "encoding": {
        "x": {"field": "d", "type": "quantitative", "axis": null},
        "y": {"field": "h", "type": "quantitative", "axis": null},
        "stroke": {"field": "f", "type": "nominal"}
      }
    },
    {
      "data": {"values": [{"d": 0.063, "h": 0.038, "t": "(c)"}]},
      "mark": {"type": "text", "font": "Liberation Serif", "fontSize": 62, "align": "center", "baseline": "middle", "color": "#000"},
      "encoding": {
        "x": {"field": "d", "type": "quantitative", "scale": {"domain": [0, 1], "nice": false, "zero": false},
              "axis": {"orient": "top", "values": [0.2, 0.4, 0.6, 0.8], "labels": false, "title": null}},
        "y": {"field": "h", "type": "quantitative", "scale": {"domain": [0, 0.4], "nice": false},
              "axis": {"orient": "right", "values": [0.1, 0.2, 0.3], "labels": false, "title": null}},
        "text": {"field": "t"}
      }
    }
  ],
  "resolve": {"axis": {"x": "independent", "y": "independent"}}
}
